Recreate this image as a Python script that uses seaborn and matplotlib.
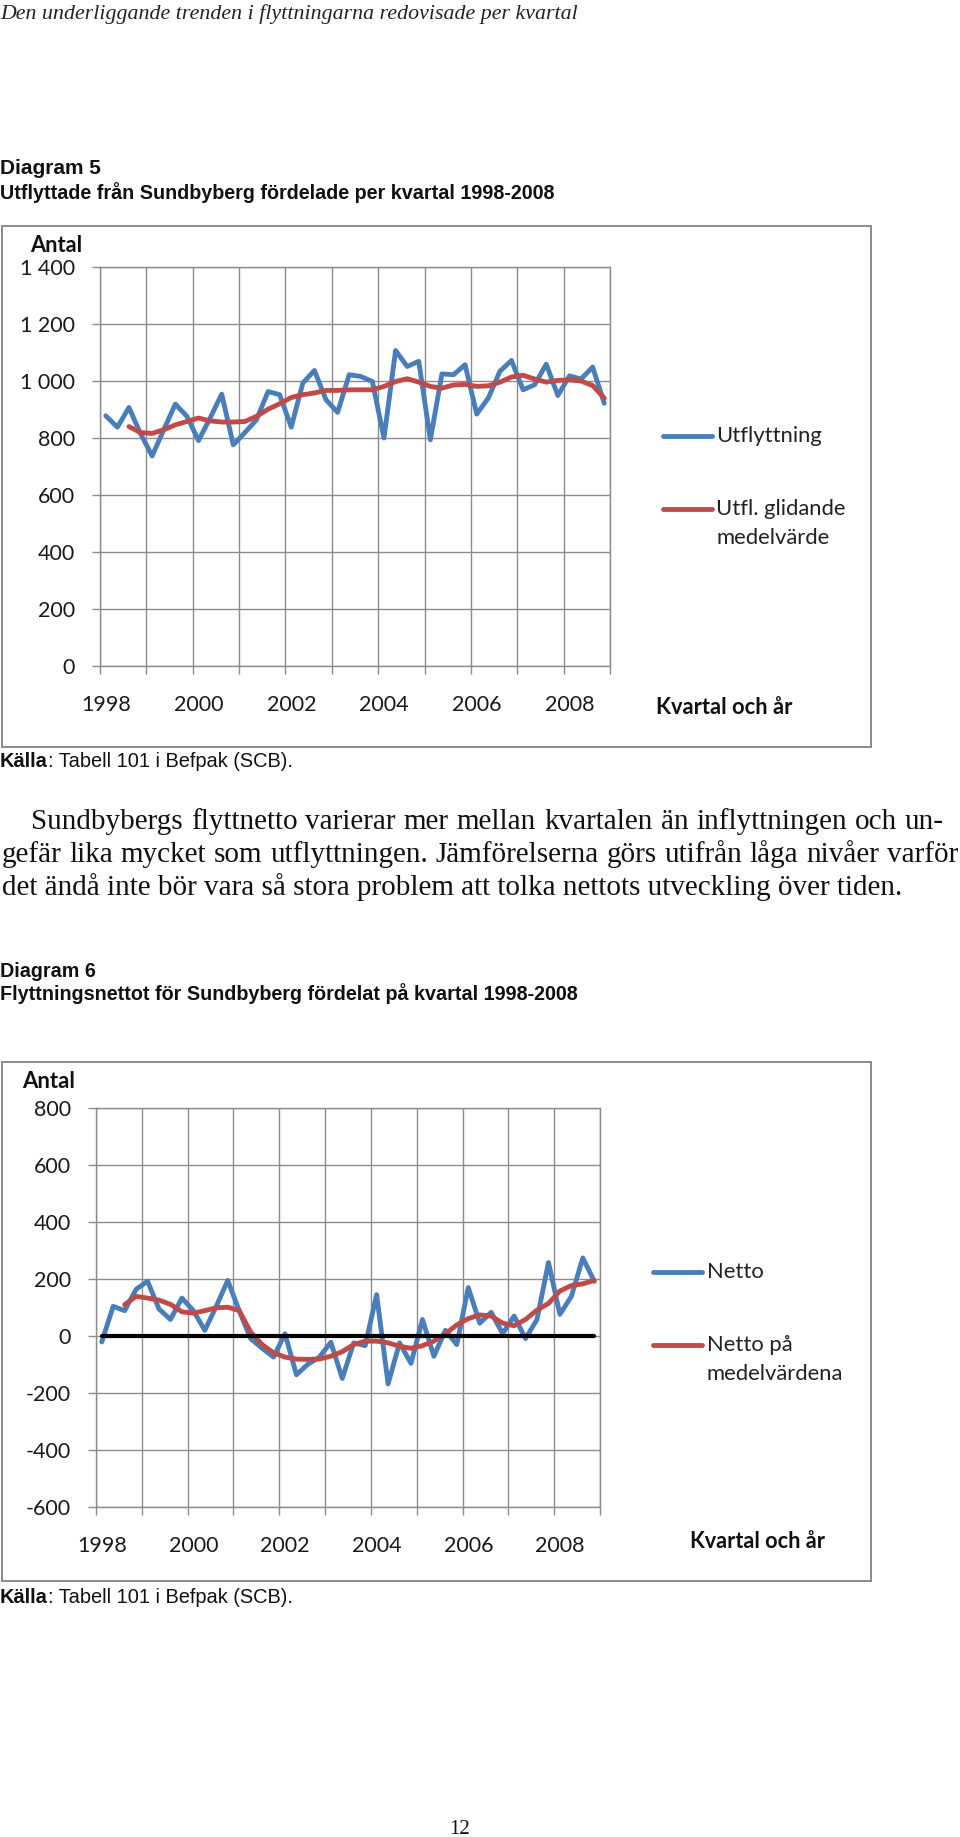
import matplotlib
matplotlib.use('Agg')
import matplotlib.pyplot as plt
import seaborn as sns
import pandas as pd
import numpy as np
from matplotlib import font_manager
from matplotlib.lines import Line2D
from matplotlib.patches import Rectangle

# ---------------- data ----------------
year_labels = ['1998', '2000', '2002', '2004', '2006', '2008']
quarters = list(range(44))  # 1998 Q1 .. 2008 Q4

utflyttning = [878, 838, 907, 815, 737, 829, 919, 876, 791, 870,
               954, 776, 819, 864, 963, 952, 838, 993, 1037, 934,
               890, 1022, 1016, 998, 800, 1107, 1051, 1069, 794, 1025,
               1022, 1057, 884, 940, 1034, 1072, 969, 987, 1059, 949,
               1018, 1007, 1049, 922]
utfl_medel = [840, 819, 816, 829, 846, 858, 870, 860, 856, 856,
              858, 876, 901, 920, 942, 952, 958, 967, 967, 969,
              969, 969, 981, 998, 1008, 996, 981, 975, 986, 988,
              981, 983, 996, 1014, 1020, 1007, 996, 1002, 1004, 1000,
              984, 940]  # from 1998 Q3

netto = [-21, 104, 89, 164, 192, 95, 58, 133, 89, 20,
         104, 195, 89, -9, -43, -74, 8, -136, -99, -74,
         -22, -149, -24, -34, 145, -168, -24, -96, 58, -71,
         20, -30, 170, 45, 83, 8, 70, -9, 58, 258,
         76, 139, 274, 192]
netto_medel = [110, 139, 133, 126, 111, 85, 80, 89, 99, 101,
               89, 14, -30, -59, -74, -81, -82, -81, -71, -55,
               -30, -18, -18, -24, -36, -43, -34, -18, 8, 39,
               61, 74, 70, 45, 36, 58, 91, 114, 158, 177,
               183, 195]  # from 1998 Q3
noll_linje = [0] * 44

y1_ticks = [0, 200, 400, 600, 800, 1000, 1200, 1400]
y1_labels = ['0', '200', '400', '600', '800', '1 000', '1 200', '1 400']
y2_ticks = [-600, -400, -200, 0, 200, 400, 600, 800]
y2_labels = ['-600', '-400', '-200', '0', '200', '400', '600', '800']

# ---------------- style ----------------
W, H = 960, 1837
sns.set_theme(style='white')
names = {f.name for f in font_manager.fontManager.ttflist}
NARROW = 'Liberation Sans Narrow' if 'Liberation Sans Narrow' in names else 'Liberation Sans'
SERIF = 'Liberation Serif'
CHART = 'Lato' if 'Lato' in names else 'DejaVu Sans'
plt.rcParams['font.family'] = [CHART, 'DejaVu Sans']
plt.rcParams['text.color'] = '#111111'

BLUE = '#4A7EBB'
RED = '#BE4B48'
GRID = '#8c8c8c'
FRAME = '#8a8a8a'

fig = plt.figure(figsize=(W / 100, H / 100), dpi=100)
fig.patch.set_facecolor('white')
renderer = fig.canvas.get_renderer()


def fx(x):
    return x / W


def fy(y):
    return 1 - y / H


def width_of(t):
    return t.get_window_extent(renderer).width


def put(x, y, s, size, family, target_w=None, **kw):
    t = fig.text(fx(x), fy(y), s, fontsize=size, family=family, **kw)
    if target_w:
        t.set_fontsize(size * target_w / width_of(t))
    return t


def justify(x0, x1, y, line, size, family):
    words = line.split(' ')
    ts = [fig.text(0, fy(y), w, fontsize=size, family=family, va='baseline', color='#111111')
          for w in words]
    ws = [width_of(t) for t in ts]
    gap = (x1 - x0 - sum(ws)) / (len(ws) - 1)
    x = x0
    for t, w in zip(ts, ws):
        t.set_x(fx(x))
        x += w + gap


def kalla(y):
    a = fig.text(fx(0), fy(y), 'Källa', fontsize=15, family=NARROW, weight='bold', va='baseline', color='#111')
    b = fig.text(0, fy(y), ': Tabell 101 i Befpak (SCB).', fontsize=15, family=NARROW, va='baseline', color='#111')
    scale = 293 / (width_of(a) + width_of(b))
    a.set_fontsize(15 * scale)
    b.set_fontsize(15 * scale)
    b.set_x(fx(width_of(a)))


def frame(x0, y0, x1, y1):
    fig.add_artist(Rectangle((fx(x0), fy(y1)), (x1 - x0) / W, (y1 - y0) / H,
                             transform=fig.transFigure, fill=False, edgecolor=FRAME, lw=1.4))


def style_axes(ax, yt, yl, ylim):
    ax.set_xlim(-0.5, 43.5)
    ax.set_ylim(*ylim)
    ax.set_yticks(yt)
    ax.set_yticklabels(yl)
    ax.set_xticks(np.arange(-0.5, 44, 4))
    ax.set_xticklabels([])
    ax.set_xticks([8 * i for i in range(len(year_labels))], minor=True)
    ax.set_xticklabels(year_labels, minor=True)
    ax.grid(True, which='major', color=GRID, lw=1.0)
    ax.grid(False, which='minor')
    ax.set_axisbelow(True)
    ax.set_xlabel('')
    ax.set_ylabel('')
    ax.set_facecolor('white')
    for s in ax.spines.values():
        s.set_color(GRID)
        s.set_linewidth(1.0)
    ax.tick_params(axis='y', which='major', left=True, length=6, width=1, color=GRID,
                   pad=12, labelsize=15.5, labelcolor='#1a1a1a')
    ax.tick_params(axis='x', which='major', bottom=True, length=6, width=1, color=GRID)
    ax.tick_params(axis='x', which='minor', bottom=True, length=0, pad=21,
                   labelsize=15.5, labelcolor='#1a1a1a')


LW = 3.5
line_kw = dict(solid_joinstyle='round', solid_capstyle='round')

# ---------------- page texts ----------------
put(0, 19, 'Den underliggande trenden i flyttningarna redovisade per kvartal', 16, SERIF,
    target_w=576, style='italic', va='baseline', color='#222')

put(0, 174, 'Diagram 5', 15, NARROW, weight='bold', va='baseline', color='#111')
t5 = put(0, 199, 'Utflyttade från Sundbyberg fördelade per kvartal 1998-2008', 15, NARROW,
         target_w=556, weight='bold', va='baseline', color='#111')

# ---------------- chart 1 ----------------
frame(2, 226, 871, 747)
ax1 = fig.add_axes([fx(100), fy(666), (610 - 100) / W, (666 - 267) / H])
df1 = pd.DataFrame({'kvartal': quarters, 'Utflyttning': utflyttning})
df1m = pd.DataFrame({'kvartal': quarters[2:], 'medel': utfl_medel})
sns.lineplot(data=df1, x='kvartal', y='Utflyttning', ax=ax1, color=BLUE, lw=LW, **line_kw)
sns.lineplot(data=df1m, x='kvartal', y='medel', ax=ax1, color=RED, lw=LW, **line_kw)
style_axes(ax1, y1_ticks, y1_labels, (0, 1400))

put(30, 245, 'Antal', 16, CHART, target_w=52, weight='bold', va='center', color='#111')
put(656, 707, 'Kvartal och år', 15, CHART, target_w=136, weight='bold', va='center', color='#111')

leg = put(716, 436, 'Utflyttning', 15, CHART, target_w=106, va='center', color='#222')
LS = leg.get_fontsize()
put(716, 509, 'Utfl. glidande', LS, CHART, va='center', color='#222')
put(716, 538, 'medelvärde', LS, CHART, va='center', color='#222')
fig.add_artist(Line2D([fx(663), fx(712)], [fy(436)] * 2, color=BLUE, lw=LW, transform=fig.transFigure))
fig.add_artist(Line2D([fx(663), fx(712)], [fy(509)] * 2, color=RED, lw=LW, transform=fig.transFigure))

kalla(767)

# ---------------- paragraph ----------------
p3 = put(2, 895, 'det ändå inte bör vara så stora problem att tolka nettots utveckling över tiden.',
         18, SERIF, target_w=901, va='baseline', color='#111')
PS = p3.get_fontsize()
justify(31, 944, 829, 'Sundbybergs flyttnetto varierar mer mellan kvartalen än inflyttningen och un-', PS, SERIF)
justify(2, 958, 862, 'gefär lika mycket som utflyttningen. Jämförelserna görs utifrån låga nivåer varför', PS, SERIF)

put(0, 977, 'Diagram 6', t5.get_fontsize(), NARROW, weight='bold', va='baseline', color='#111')
put(0, 1000, 'Flyttningsnettot för Sundbyberg fördelat på kvartal 1998-2008', 15, NARROW,
    target_w=579, weight='bold', va='baseline', color='#111')

# ---------------- chart 2 ----------------
frame(2, 1062, 871, 1581)
ax2 = fig.add_axes([fx(96), fy(1507), (600 - 96) / W, (1507 - 1108) / H])
df2 = pd.DataFrame({'kvartal': quarters, 'Netto': netto, 'noll': noll_linje})
df2m = pd.DataFrame({'kvartal': quarters[2:], 'medel': netto_medel})
sns.lineplot(data=df2, x='kvartal', y='Netto', ax=ax2, color=BLUE, lw=LW, **line_kw)
sns.lineplot(data=df2m, x='kvartal', y='medel', ax=ax2, color=RED, lw=LW, **line_kw)
sns.lineplot(data=df2, x='kvartal', y='noll', ax=ax2, color='black', lw=3.0, **line_kw)
style_axes(ax2, y2_ticks, y2_labels, (-600, 800))

put(22, 1081, 'Antal', 16, CHART, target_w=53, weight='bold', va='center', color='#111')
put(690, 1542, 'Kvartal och år', 15, CHART, target_w=135, weight='bold', va='center', color='#111')
put(707, 1272, 'Netto', LS, CHART, va='center', color='#222')
put(707, 1345, 'Netto på', LS, CHART, va='center', color='#222')
put(707, 1374, 'medelvärdena', LS, CHART, va='center', color='#222')
fig.add_artist(Line2D([fx(653), fx(702)], [fy(1272)] * 2, color=BLUE, lw=LW, transform=fig.transFigure))
fig.add_artist(Line2D([fx(653), fx(702)], [fy(1345)] * 2, color=RED, lw=LW, transform=fig.transFigure))

kalla(1603)

put(460, 1834, '12', 15, SERIF, ha='center', va='baseline', color='#111')

fig.savefig('out.png', dpi=100, facecolor='white')
